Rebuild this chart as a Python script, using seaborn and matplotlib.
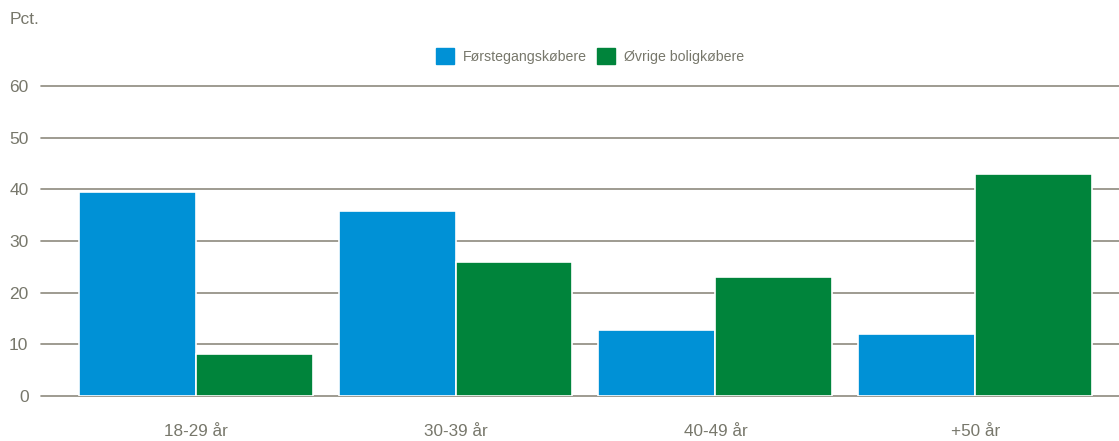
import matplotlib
matplotlib.use("Agg")
import matplotlib.pyplot as plt
import seaborn as sns
import pandas as pd

# Data
age_groups = ["18-29 år", "30-39 år", "40-49 år", "+50 år"]
first_time = [39.4, 35.9, 12.7, 12.0]
other_buyers = [8.2, 25.9, 23.1, 43.0]
series_names = ["Førstegangskøbere", "Øvrige boligkøbere"]
y_ticks = [0, 10, 20, 30, 40, 50, 60]

df = pd.DataFrame({
    "Alder": age_groups * 2,
    "Pct": first_time + other_buyers,
    "Gruppe": [series_names[0]] * 4 + [series_names[1]] * 4,
})

sns.set_theme(style="white")
plt.rcParams["font.family"] = ["Liberation Sans", "DejaVu Sans"]

text_col = "#77776b"
grid_col = "#8e8a7e"
palette = {series_names[0]: "#0091d6", series_names[1]: "#00843b"}

fig = plt.figure(figsize=(11.19, 4.41), dpi=100)
ax = fig.add_axes([41 / 1119, 1 - 396 / 441, 1 - 41 / 1119, (396 - 86) / 441])

sns.barplot(data=df, x="Alder", y="Pct", hue="Gruppe", palette=palette,
            width=0.9, edgecolor="white", linewidth=1.2, saturation=1,
            ax=ax, zorder=3)

ax.set_ylim(0, 60)
ax.set_xlim(-0.595, 3.553)
ax.set_yticks(y_ticks)
ax.yaxis.grid(True, color=grid_col, linewidth=1.2)
ax.set_axisbelow(True)
for s in ax.spines.values():
    s.set_visible(False)
ax.set_xlabel("")
ax.set_ylabel("")
ax.tick_params(axis="y", length=0, pad=9, labelsize=12.5, labelcolor=text_col)
ax.tick_params(axis="x", length=0, pad=20, labelsize=12.3, labelcolor=text_col)

# top gridline at 60 should not be clipped
for gl in ax.get_ygridlines():
    gl.set_clip_on(False)

ax.get_legend().remove()
handles = [plt.Rectangle((0, 0), 1, 1, color=palette[n]) for n in series_names]
fig.legend(handles, series_names, loc="center", bbox_to_anchor=(0.527, 1 - 56 / 441),
           ncol=2, frameon=False, fontsize=10.2, labelcolor=text_col,
           handlelength=1.3, handleheight=1.3, handletextpad=0.6, columnspacing=0.7)

fig.text(10 / 1119, 1 - 20 / 441, "Pct.", color=text_col, fontsize=12.5,
         ha="left", va="center")

fig.savefig("out.png", dpi=100)
